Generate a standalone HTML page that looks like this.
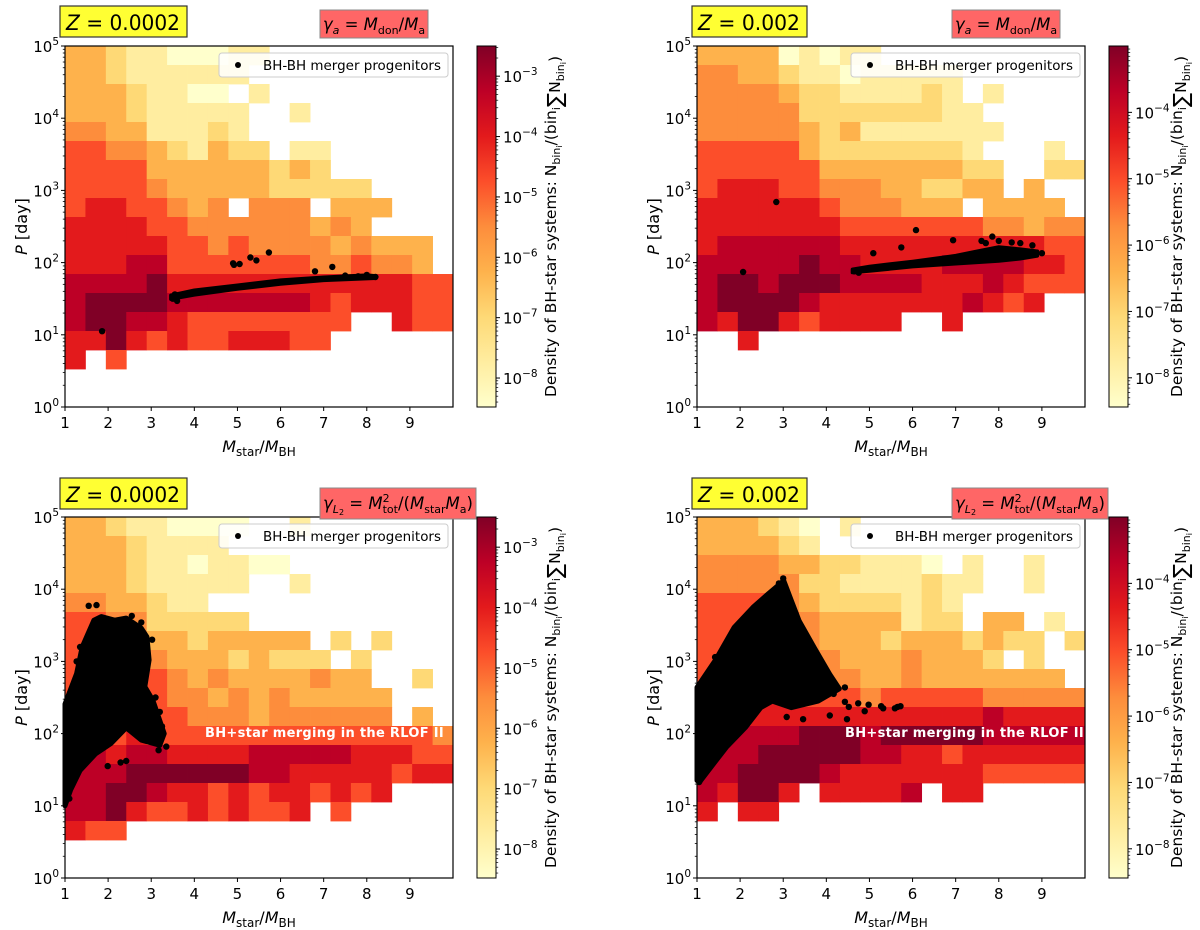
<!DOCTYPE html>
<html><head><meta charset="utf-8"><style>
html,body{margin:0;padding:0;background:#fff;}
svg{display:block;font-family:"DejaVu Sans","Liberation Sans",sans-serif;}
</style></head><body>
<svg id="fig" width="1200" height="930" viewBox="0 0 1200 930" xmlns="http://www.w3.org/2000/svg">
<defs>
<linearGradient id="cmap" x1="0" y1="1" x2="0" y2="0">
<stop offset="0" stop-color="#ffffcc"/><stop offset="0.125" stop-color="#ffeda0"/><stop offset="0.25" stop-color="#fed976"/><stop offset="0.375" stop-color="#feb24c"/><stop offset="0.5" stop-color="#fd8d3c"/><stop offset="0.625" stop-color="#fc4e2a"/><stop offset="0.75" stop-color="#e31a1c"/><stop offset="0.875" stop-color="#bd0026"/><stop offset="1" stop-color="#800026"/>
</linearGradient>
</defs>
</svg>
<script>
// ---- data: heatmap levels (rows from P=1e5 down to 1e0, 19 mass-ratio bins 1..10) ----
const tlGrid = [
"3321100011.........","332111111..........","33321100.1.........","333211111..1.......",
"443311121..........","5544321322.11......","5555333333232......","555543333322222....",
"56655434.444.333...","666655444444343....","666665545444434333.","666775555555445443.",
"7777866666666666655","7888877777776566655","78877655555555..655","6686565566655......",
"6.5................","...................","..................."];
const trGrid = [
"333301011..........","4433211011111......","4444322111121.1....","44444222222211.....",
"444443231111111....","55555322222221...1.","555555333333322..22","566655444332233.3..",
"6666665444333.3333.","6666666555555544344","6777777666666666655","7777787766667777665",
"7887888777766676555","78888766666667656..","7688656666..6......","..6................",
"...................","...................","..................."];
const blGrid = [
"332110000..1.......","33321111...........","33321101100........","333211111..1.......",
"4433211............","554422222..........","555433233333.2.2...","5555433323222.2....",
"555554343333433..2.","5555544343433333...","5556554443444444.3.","6656555555555555554",
"7767766667777766655","7778888887766666566","7788766565665656...","778655656556.5.....",
"655................","...................","..................."];
const brGrid = [
"333210.1...........","333321.............","444433221110.1..1..","44444221111211..1..",
"5555432222121......","5555543333122.33.1.","55555433323332322.2","555554433343332.2..",
"555655443343333333.","6666655545555544444","6666666666666676666","7777788878888877777",
"7778888877665666666","7788887666666655555","76886.66667.66.....","6.66...............",
"...................","...................","..................."];
// ---- data: BH-BH merger progenitors, [M_star/M_BH, log10 P] ----
const tlPoints = [[1.86,1.05],[4.9,1.99],[4.92,1.97],[5.05,1.98],[5.3,2.07],[5.44,2.03],[5.73,2.14],[6.8,1.88],[7.2,1.94],[3.5,1.5],[3.6,1.47],[3.55,1.56],[8.2,1.8],[8.0,1.83],[7.5,1.82],[7.8,1.81]];
const tlBand = [[3.45,1.55],[4,1.62],[5,1.69],[6,1.76],[7,1.8],[8,1.83],[8.2,1.82],[8.2,1.78],[7,1.75],[6,1.7],[5,1.63],[4,1.55],[3.45,1.49]];
const trPoints = [[2.07,1.87],[2.84,2.84],[5.09,2.13],[5.74,2.21],[6.08,2.45],[6.94,2.31],[7.85,2.36],[7.6,2.3],[8.0,2.3],[8.3,2.28],[8.78,2.24],[9.0,2.13],[8.5,2.27],[7.7,2.27],[4.65,1.88],[4.75,1.86]];
const trBand = [[4.6,1.91],[5,1.95],[6,2.02],[7,2.1],[7.5,2.16],[8,2.22],[8.5,2.19],[8.9,2.16],[8.9,2.09],[8.5,2.05],[8,2.02],[7,1.98],[6,1.94],[5,1.88],[4.6,1.86]];
const blPoints = [[1.55,3.77],[1.73,3.78],[1.35,3.2],[1.27,3.0],[3.02,3.3],[1.99,1.55],[2.29,1.6],[2.42,1.62],[3.17,1.77],[3.35,1.82],[2.77,3.54],[2.55,3.63],[3.2,2.3],[3.1,2.5],[2.9,2.2],[1.1,1.1],[3.25,2.1]];
const blBlob = [[1.0,1.0],[1.0,2.41],[1.27,2.83],[1.4,3.2],[1.67,3.57],[1.84,3.62],[2.15,3.57],[2.42,3.6],[2.77,3.46],[2.9,3.34],[2.95,3.02],[2.85,2.65],[3.04,2.46],[3.3,2.0],[3.2,1.84],[2.77,1.91],[2.42,2.08],[2.06,1.86],[1.71,1.72],[1.35,1.49],[1.13,1.22]];
const brPoints = [[4.17,2.55],[4.43,2.44],[4.52,2.37],[4.48,2.2],[4.74,2.42],[4.89,2.31],[4.98,2.4],[5.27,2.38],[5.32,2.35],[5.59,2.35],[5.65,2.37],[5.72,2.38],[4.08,2.25],[3.08,2.23],[3.46,2.2],[1.42,3.06],[3.94,2.93],[4.43,2.64],[3.55,3.3],[3.0,4.15],[2.9,4.08],[1.05,1.33]];
const brBlob = [[1.0,1.35],[1.0,2.64],[1.42,3.01],[1.86,3.47],[2.3,3.75],[2.66,3.94],[2.92,4.07],[3.01,4.12],[3.19,3.84],[3.37,3.56],[3.72,3.19],[4.08,2.82],[4.3,2.62],[3.81,2.45],[3.19,2.36],[2.75,2.45],[2.48,2.36],[2.13,2.09],[1.68,1.81],[1.33,1.54],[1.06,1.33]];
const xTicks = [1,2,3,4,5,6,7,8,9];
const yTicks = [0,1,2,3,4,5];
const cmapColors = ["#ffffcc","#ffeda0","#fed976","#feb24c","#fd8d3c","#fc4e2a","#e31a1c","#bd0026","#800026"];
const cbTicksLeft = [-3,-4,-5,-6,-7,-8];
const cbTicksRight = [-4,-5,-6,-7,-8];

const NS = "http://www.w3.org/2000/svg";
const svg = document.getElementById('fig');
function mk(tag, attrs, parent){const e=document.createElementNS(NS,tag);for(const k in attrs)e.setAttribute(k,attrs[k]);(parent||svg).appendChild(e);return e;}

function panel(ox, oy, grid, points, blob, zText, zW, gammaL2, cbTop, cbBot, cbTicks, showMerge){
  const L=65+ox, R=453+ox, T=46+oy, B=407+oy;
  const g = mk('g',{});
  
  
  const xs = v => L + (v-1)/9*(R-L);
  const ys = lp => B - lp/5*(B-T);
  const hm = mk('g',{},g);
  
  
  grid.forEach((row,r)=>{
    for(let c=0;c<19;c++){
      const ch=row[c]; if(ch==='.'||ch===undefined) continue;
      const x0=xs(1+c*9/19), x1=xs(1+(c+1)*9/19), y0=ys(5-r*5/19), y1=ys(5-(r+1)*5/19);
      const rc = mk('rect',{x:x0.toFixed(2),y:y0.toFixed(2),width:(x1-x0+0.4).toFixed(2),height:(y1-y0+0.4).toFixed(2),fill:cmapColors[+ch]},hm);
      
      
    }
  });
  if(blob){
    const pg = mk('polygon',{points:blob.map(p=>xs(p[0]).toFixed(1)+','+ys(p[1]).toFixed(1)).join(' '),fill:'#000',stroke:'#000','stroke-width':5,'stroke-linejoin':'round'},g);
    
    
  }
  points.forEach(p=>{
    const c = mk('circle',{cx:xs(p[0]).toFixed(1),cy:ys(p[1]).toFixed(1),r:3.2,fill:'#000'},g);
    
    
  });
  if(showMerge){
    const t = mk('text',{x:205+ox+(ox?8:0),y:737,'font-size':13,'font-weight':'bold',fill:'#fff','letter-spacing':'0.3'},g);
    t.textContent='BH+star merging in the RLOF II';
    
    
  }
  const fr = mk('rect',{x:L,y:T,width:R-L,height:B-T,fill:'none',stroke:'#000','stroke-width':1.2},g);
  
  
  xTicks.forEach(v=>{
    mk('line',{x1:xs(v),x2:xs(v),y1:B,y2:B+4,stroke:'#000','stroke-width':1},g);
    const t=mk('text',{x:xs(v),y:B+21,'font-size':15,'text-anchor':'middle'},g);
    t.textContent=v;
    
    
  });
  yTicks.forEach(v=>{
    mk('line',{x1:L-4,x2:L,y1:ys(v),y2:ys(v),stroke:'#000','stroke-width':1},g);
    if(v<5) for(let m=2;m<10;m++){const yy=ys(v+Math.log10(m));mk('line',{x1:L-2.2,x2:L,y1:yy,y2:yy,stroke:'#000','stroke-width':0.8},g);}
    const t=mk('text',{x:L-6,y:ys(v)+6,'font-size':15,'text-anchor':'end'},g);
    t.innerHTML='10<tspan dy="-7" font-size="10.5">'+v+'</tspan>';
    
    
  });
  const xl=mk('text',{x:(L+R)/2,y:B+45,'font-size':16,'text-anchor':'middle'},g);
  xl.innerHTML='<tspan font-style="italic">M</tspan><tspan font-size="12" dy="4">star</tspan><tspan dy="-4">/</tspan><tspan font-style="italic">M</tspan><tspan font-size="12" dy="4">BH</tspan>';
  
  
  const yl=mk('text',{x:0,y:0,'font-size':16,'text-anchor':'middle',transform:`translate(${L-38},${(T+B)/2}) rotate(-90)`},g);
  yl.innerHTML='<tspan font-style="italic">P</tspan> [day]';
  
  
  const lg=mk('g',{},g);
  
  
  mk('rect',{x:219+ox,y:53+oy,width:229,height:24,rx:3,fill:'#fff','fill-opacity':0.85,stroke:'#ccc','stroke-width':1},lg);
  mk('circle',{cx:238+ox,cy:65+oy,r:3,fill:'#000'},lg);
  const lt=mk('text',{x:263+ox,y:70+oy,'font-size':13.5,textLength:178,lengthAdjust:'spacingAndGlyphs'},lg);
  lt.textContent='BH-BH merger progenitors';
  
  
  const zy = 6+oy+(oy?1:0);
  const zb=mk('rect',{x:60+ox,y:zy,width:zW,height:31,fill:'#ffff33',stroke:'#333','stroke-width':1.2},g);
  
  
  const zt=mk('text',{x:66+ox,y:zy+24,'font-size':21,textLength:zW-13,lengthAdjust:'spacingAndGlyphs'},g);
  zt.innerHTML='<tspan font-style="italic">Z</tspan> = '+zText;
  
  
  const gw = gammaL2?156:108;
  const gy = 10+oy+(oy?7:0);
  const gb=mk('rect',{x:320+ox,y:gy,width:gw,height:28+(oy?3:0),fill:'#ff6666',stroke:'#888','stroke-width':1},g);
  
  
  const gt=mk('text',{x:320+ox+gw/2,y:gy+20+(oy?1:0),'font-size':16.5,'text-anchor':'middle'},g);
  gt.innerHTML = gammaL2
   ? '<tspan font-style="italic">γ</tspan><tspan font-size="11" dy="4" font-style="italic">L</tspan><tspan font-size="8" dy="2">2</tspan><tspan dy="-6"> = </tspan><tspan font-style="italic">M</tspan><tspan font-size="11" dy="-7">2</tspan><tspan font-size="11" dx="-7" dy="11">tot</tspan><tspan dy="-4">/(</tspan><tspan font-style="italic">M</tspan><tspan font-size="11" dy="4">star</tspan><tspan font-style="italic" dy="-4">M</tspan><tspan font-size="11" dy="4">a</tspan><tspan dy="-4">)</tspan>'
   : '<tspan font-style="italic">γ</tspan><tspan font-size="11" dy="4" font-style="italic">a</tspan><tspan dy="-4"> = </tspan><tspan font-style="italic">M</tspan><tspan font-size="11" dy="4">don</tspan><tspan dy="-4">/</tspan><tspan font-style="italic">M</tspan><tspan font-size="11" dy="4">a</tspan>';
  
  
  const cx0=477+ox, cx1=496+ox;
  const cb=mk('rect',{x:cx0,y:T,width:cx1-cx0,height:B-T,fill:'url(#cmap)',stroke:'#000','stroke-width':1},g);
  
  
  const cs = lv => B - (lv-cbBot)/(cbTop-cbBot)*(B-T);
  for(let d=Math.floor(cbBot); d<cbTop; d++){
    for(let m=1;m<10;m++){const lv=d+Math.log10(m); if(lv<cbBot||lv>cbTop) continue;
      const yy=cs(lv); mk('line',{x1:cx1,x2:cx1+(m===1?4:2.2),y1:yy,y2:yy,stroke:'#000','stroke-width':m===1?1:0.7},g);}
  }
  cbTicks.forEach(v=>{
    const t=mk('text',{x:cx1+7,y:cs(v)+6,'font-size':15},g);
    t.innerHTML='10<tspan dy="-7" font-size="10.5">−'+(-v)+'</tspan>';
    
    
  });
  const cl=mk('text',{x:0,y:0,'font-size':15.5,'text-anchor':'middle',transform:`translate(${556+ox - (ox?6:0)},${(T+B)/2}) rotate(-90)`},g);
  cl.innerHTML='Density of BH-star systems: N<tspan font-size="11" dy="4">bin<tspan font-size="8" dy="2">i</tspan></tspan><tspan dy="-6">/(bin</tspan><tspan font-size="11" dy="4">i</tspan><tspan font-size="21" dy="2">∑</tspan><tspan dy="-2">N</tspan><tspan font-size="11" dy="4">bin<tspan font-size="8" dy="2">i</tspan></tspan><tspan dy="-6">)</tspan>';
  
  
}
panel(0,0,tlGrid,tlPoints,null,'0.0002',127,false,-2.5,-8.48,cbTicksLeft,false);
panel(632,0,trGrid,trPoints,null,'0.002',115,false,-3.0,-8.44,cbTicksRight,false);
panel(0,471,blGrid,blPoints,blBlob,'0.0002',127,true,-2.5,-8.48,cbTicksLeft,true);
panel(632,471,brGrid,brPoints,brBlob,'0.002',115,true,-3.0,-8.44,cbTicksRight,true);
function band(ox,oy,arr){
  const L=65+ox,R=453+ox,T=46+oy,B=407+oy;
  const p=mk('polygon',{points:arr.map(q=>(L+(q[0]-1)/9*(R-L)).toFixed(1)+','+(B-q[1]/5*(B-T)).toFixed(1)).join(' '),fill:'#000',stroke:'#000','stroke-width':3,'stroke-linejoin':'round'});
  
  
}
band(0,0,tlBand);
band(632,0,trBand);
</script>
</body></html>
